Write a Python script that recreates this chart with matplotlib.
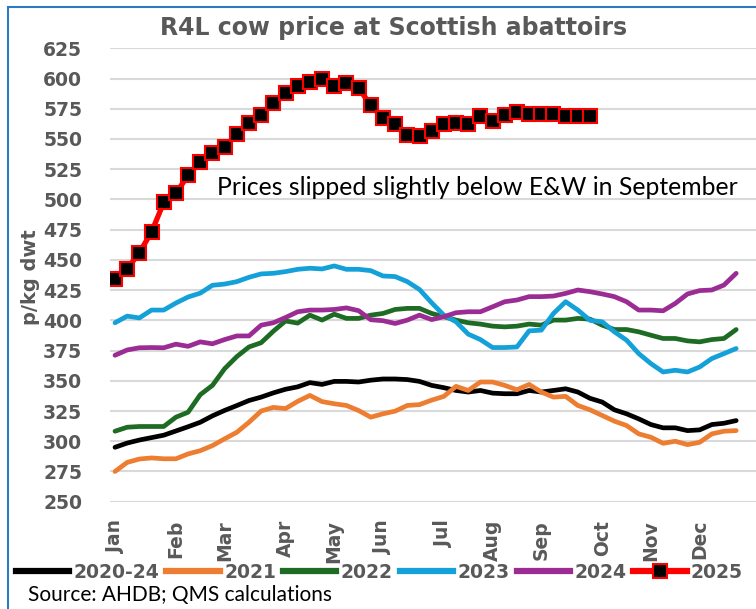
import numpy as np
import matplotlib
matplotlib.use("Agg")
import matplotlib.pyplot as plt
from matplotlib.lines import Line2D
from matplotlib.patches import Rectangle

title = "R4L cow price at Scottish abattoirs"
ylabel = "p/kg dwt"
annotation = "Prices slipped slightly below E&W in September"
source = "Source: AHDB; QMS calculations"

month_labels = ["Jan", "Feb", "Mar", "Apr", "May", "Jun", "Jul", "Aug", "Sep", "Oct", "Nov", "Dec"]
month_weeks = [0, 5, 9, 14, 18, 22, 27, 31, 35, 40, 44, 48]
yticks = list(range(250, 626, 25))

avg_2020_24 = [295, 298.5, 301, 303, 305, 308.5, 312, 315.7, 321, 325.5, 329.5, 333.7, 336.5, 340, 343, 345,
               348.5, 347, 349.5, 349.5, 349, 350.5, 351.5, 351.5, 351, 349.5, 346.2, 344.3, 342, 340.7, 342, 339.8,
               339.3, 339.3, 342, 340.7, 342, 343.4, 340.7, 335.5, 332.4, 326, 322.7, 318.5, 313.8, 311.1, 311.1,
               308.8, 309.4, 313.8, 314.9, 317.1]
y2021 = [275, 282.5, 285.3, 286.2, 285.5, 285.5, 289.5, 292.2, 296.4, 302, 307.4, 315.7, 325, 328, 327, 333,
         337.9, 332.8, 331, 329.6, 325.4, 319.9, 322.7, 324.9, 329.6, 330.3, 334, 337.1, 345.4, 342, 349, 349,
         346.2, 342.6, 347, 340.7, 336.5, 337.1, 329.6, 326, 321.3, 316.6, 313, 306.1, 303.3, 298.3, 300, 297.2,
         299.1, 306.1, 308.3, 308.8]
y2022 = [308.3, 311.6, 312.2, 312.2, 312.2, 319.9, 324, 338.5, 346.2, 360, 370, 378, 381.5, 391, 399.5, 397.7,
         404.3, 400.2, 405.1, 401.6, 401.6, 404.3, 405.7, 409, 409.9, 409.9, 405.7, 403, 400.2, 398, 396.9, 395.2,
         394.6, 395.2, 396.9, 396, 400.2, 400.2, 401.6, 401, 396, 392.4, 392.4, 390.5, 387.7, 385, 385, 383,
         382.2, 384.1, 385, 392.4]
y2023 = [398, 403.5, 402, 408.5, 408.5, 414.3, 419.3, 422.5, 429, 430, 432, 435.6, 438.4, 438.9, 440.3, 442.2,
         443.1, 442.5, 445, 442.2, 442.2, 441.1, 436.7, 436.2, 432, 425.5, 414.5, 404.3, 398.8, 388.6, 384.1, 377.5,
         377.5, 378, 391.3, 391.9, 405.7, 415.4, 408.5, 400, 398.8, 390.5, 383.6, 372.5, 364.2, 357.3, 358.7,
         357.3, 361.4, 368.4, 372.5, 376.7]
y2024 = [371.1, 375.5, 377.3, 377.5, 377.3, 380.3, 378.5, 382.2, 380.6, 384.1, 387.1, 387.1, 396, 398, 402.3, 407.1,
         408.5, 408.5, 409, 410.3, 408, 400.5, 399.7, 397.4, 400.2, 404.3, 400.6, 403, 406.3, 407.1, 407.1, 411.2,
         415.4, 416.8, 419.6, 419.6, 420.1, 422.3, 425.1, 423.7, 421.8, 419.6, 415.4, 408.5, 408.5, 407.9, 414,
         421.8, 424.6, 425.1, 429.2, 438.9]
y2025 = [434, 442.5, 456, 473, 497.5, 505, 520, 531, 538, 543.5, 554, 563.5, 570, 579.5, 588, 594, 597, 600,
         594, 596.5, 592, 578, 567, 562, 553, 552.5, 557, 562, 563.5, 562, 569, 565, 569.5, 572.5, 570.5, 570.5,
         570.5, 569, 569, 569]

series = [
    ("2020-24", avg_2020_24, "#000000"),
    ("2021", y2021, "#ED7D31"),
    ("2022", y2022, "#1E6B24"),
    ("2023", y2023, "#14A0D8"),
    ("2024", y2024, "#9A2C94"),
]

W, H = 756, 609
fig = plt.figure(figsize=(W / 100, H / 100), dpi=100)
gray = "#595959"

# chart border (partially visible)
fig.patches.append(Rectangle((8 / W, -0.05), 1.2, 1 - 7 / H + 0.05, transform=fig.transFigure,
                             fill=False, edgecolor="#2E7BC4", linewidth=1.5))

ax = fig.add_axes([110 / W, 1 - 501.7 / H, (757 - 110) / W, (501.7 - 48.3) / H])
dx = 12.18
ax.set_xlim((110 - 115) / dx, (757 - 115) / dx)
ax.set_ylim(250, 625)

for name, vals, col in series:
    ax.plot(np.arange(len(vals)), vals, color=col, lw=3.4, solid_capstyle="round", solid_joinstyle="round",
            label=name)
ax.plot(np.arange(len(y2025)), y2025, color="#FF0000", lw=3.8, marker="s", markersize=9.5,
        markerfacecolor="black", markeredgecolor="#FF0000", markeredgewidth=1.5, label="2025")

ax.set_yticks(yticks)
ax.set_yticklabels([str(v) for v in yticks], fontsize=13.5, fontweight="bold", color=gray,
                   family="DejaVu Sans")
ax.set_xticks(month_weeks)
ax.set_xticklabels(month_labels, rotation=90, fontsize=13.5, fontweight="bold", color=gray,
                   family="DejaVu Sans")
ax.tick_params(axis="y", length=0, pad=20)
ax.tick_params(axis="x", length=0, pad=13)
ax.grid(axis="y", color="#D9D9D9", lw=1.5)
ax.set_axisbelow(True)
for s in ax.spines.values():
    s.set_visible(False)

fig.text(31 / W, 1 - 277 / H, ylabel, rotation=90, ha="center", va="center", fontsize=14,
         fontweight="bold", color=gray)
fig.text(394 / W, 1 - 28 / H, title, ha="center", va="center", fontsize=17, fontweight="bold",
         color=gray)
ax.text((217 - 115) / dx, 509.7, annotation, ha="left", va="center", fontsize=17.8, color="black",
        family="Lato")
fig.text(28 / W, 1 - 595 / H, source, ha="left", va="center", fontsize=15, color="black",
         family="Lato")

handles = [Line2D([], [], color=c, lw=4.5) for _, _, c in series]
handles.append(Line2D([], [], color="#FF0000", lw=4.5, marker="s", markersize=10,
                      markerfacecolor="black", markeredgecolor="#FF0000", markeredgewidth=1.5))
labels = [n for n, _, _ in series] + ["2025"]
leg = fig.legend(handles, labels, loc="center left", bbox_to_anchor=(16 / W, 1 - 572 / H), ncol=6,
                 frameon=False, handlelength=2.85, handletextpad=0.22, columnspacing=0.38,
                 borderaxespad=0, borderpad=0,
                 prop={"weight": "bold", "size": 13.5, "family": "DejaVu Sans"})
for t in leg.get_texts():
    t.set_color(gray)

fig.savefig("out.png", dpi=100)
